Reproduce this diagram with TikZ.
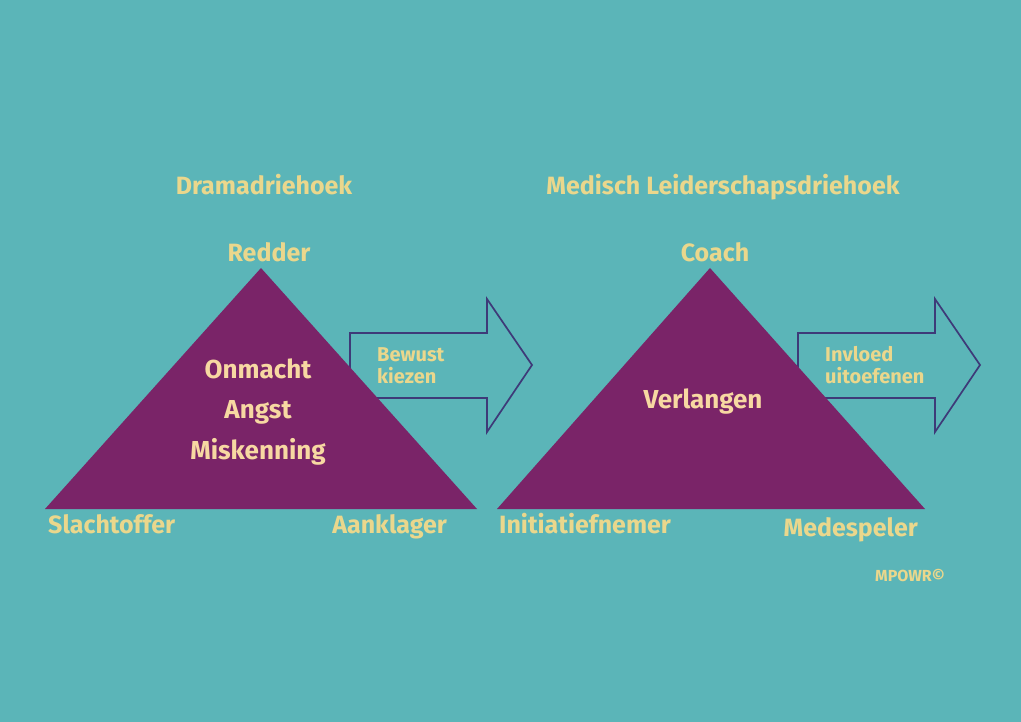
\documentclass[tikz,border=0pt]{standalone}
\usepackage{fontspec}
\setmainfont{Fira Sans}
\definecolor{bgteal}{HTML}{5BB5B8}
\definecolor{tripurple}{HTML}{7A2468}
\definecolor{arrowline}{HTML}{3E3A78}
\definecolor{lblyellow}{HTML}{EAD78C}
\definecolor{innerpeach}{HTML}{F7D8A2}

\begin{document}
\begin{tikzpicture}[x=1pt,y=-1pt,
	lbl/.style={text=lblyellow,font=\bfseries\fontsize{25}{28}\selectfont,inner sep=0pt,anchor=base},
	inner/.style={text=innerpeach,font=\bfseries\fontsize{26}{29}\selectfont,inner sep=0pt,anchor=base},
	small/.style={text=lblyellow,font=\bfseries\fontsize{20}{23}\selectfont,align=left,anchor=base west,inner sep=0pt}]
		\fill[bgteal] (0,0) rectangle (1021,722);
		\useasboundingbox (0,0) rectangle (1021,722);
		
		\foreach \dx in {0,448}
			\draw[arrowline,fill=bgteal,line width=1.7pt,line join=miter]
				(350+\dx,333) -- (487+\dx,333) -- (487+\dx,299) -- (532+\dx,365)
				-- (487+\dx,432) -- (487+\dx,398) -- (350+\dx,398) -- cycle;
		
		\path	(261,268) coordinate(d0) 
			(45,509) coordinate(d1)
			(477,509) coordinate(d2)
			(710,268) coordinate(m0)
			(497,509) coordinate(m1)
			(925,509) coordinate(m2);
		\fill[tripurple] (d0) -- (d1) -- (d2) -- cycle;
		\fill[tripurple] (m0) -- (m1) -- (m2) -- cycle;
		
		\node[lbl] (drama) at (264,195) {Dramadriehoek};
		\node[lbl] (medisch) at (723,195) {Medisch Leiderschapsdriehoek};
		\node[lbl] (redder) at (269,262) {Redder};
		\node[lbl] (coach) at (715,262) {Coach};
		\node[lbl,anchor=base west] (slachtoffer) at (48,533) {Slachtoffer};
		\node[lbl,anchor=base east] (aanklager) at (447,533) {Aanklager};
		\node[lbl,anchor=base west] (initiatief) at (499,533) {Initiatiefnemer};
		\node[lbl,anchor=base east] (medespeler) at (918,536) {Medespeler};
		
		\node[inner] (onmacht) at (258,378) {Onmacht};
		\node[inner] (angst) at (258,418) {Angst};
		\node[inner] (miskenning) at (258,459) {Miskenning};
		\node[inner] (verlangen) at (703,408) {Verlangen};
		
		\node[small] (bewust) at (377,384) {Bewust\\kiezen};
		\node[small] (invloed) at (825,384) {Invloed\\uitoefenen};
		\node[text=lblyellow,font=\bfseries\fontsize{16}{18}\selectfont,inner sep=0pt,anchor=base] (mpowr) at (910,581) {MPOWR©};
	\end{tikzpicture}
\end{document}
